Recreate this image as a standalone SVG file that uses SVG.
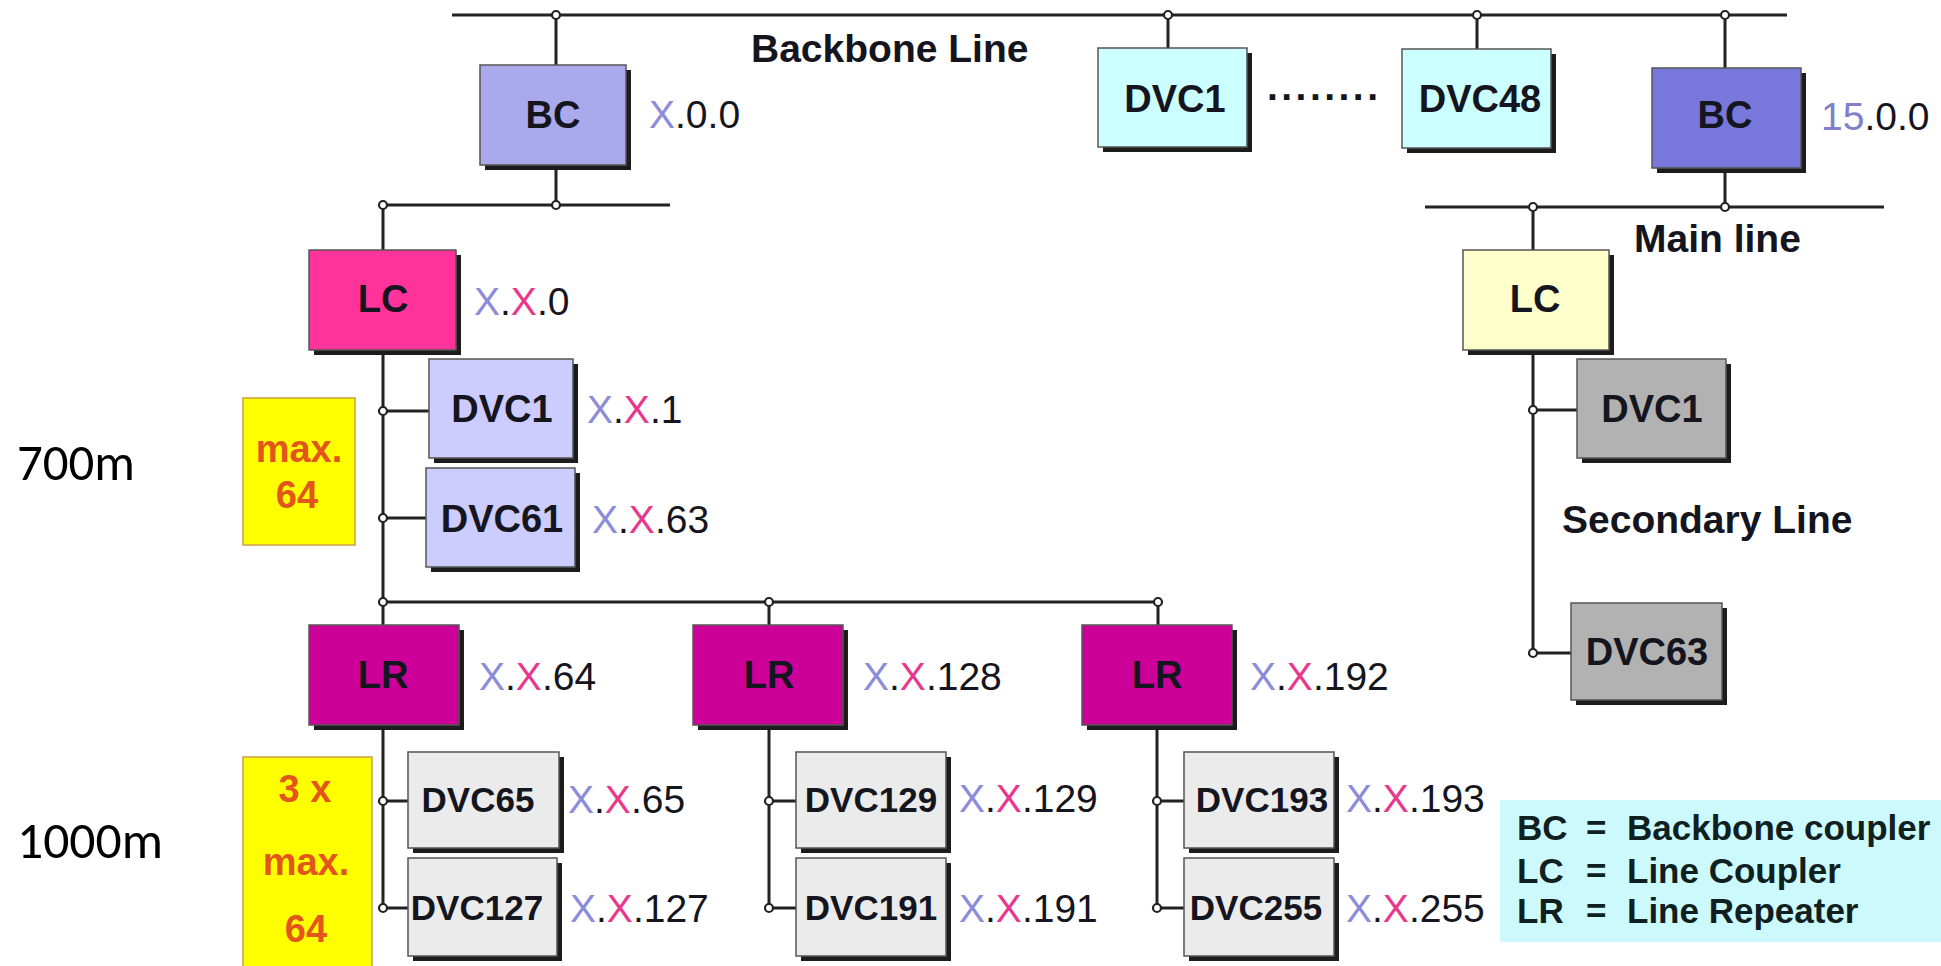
<svg xmlns="http://www.w3.org/2000/svg" width="1941" height="966" viewBox="0 0 1941 966">
<style>
text{font-family:"Liberation Sans",Arial,sans-serif;fill:#151520}
.bl{font-size:38px;font-weight:bold;text-anchor:middle}
.bs{font-size:35px;font-weight:bold;text-anchor:middle}
.ad{font-size:39px}
.ln{font-size:39px;font-weight:bold}
.lg{font-size:35px;font-weight:bold;fill:#102020}
.yl{font-size:38px;font-weight:bold;text-anchor:middle;fill:#E2561B}
.dist{font-family:Carlito,Lato,"Open Sans",sans-serif;font-size:52px;fill:#000}
.x1{fill:#8C8CDA}
.x2{fill:#E8388E}
.sh{fill:#1c1c1c}
.bx{stroke:#555;stroke-width:1.5}
.wire{fill:none;stroke:#222;stroke-width:3}
.dot{fill:#fff;stroke:#222;stroke-width:2.2}
</style>
<rect width="1941" height="966" fill="#fff"/>

<g id="connectors">
<path class="wire" d="M452 15H1787 M556 15V65 M556 165V205 M383 205H670 M383 205V250 M383 350V602 M383 411H429 M383 518H426 M383 602H1158 M383 602V625 M769 602V625 M1158 602V625 M383 725V908 M383 801H408 M383 908H408 M769 725V908 M769 801H796 M769 908H796 M1157 725V908 M1157 801H1184 M1157 908H1184 M1168 15V48 M1477 15V49 M1725 15V68 M1725 168V207 M1425 207H1884 M1533 207V250 M1533 350V653 M1533 410H1577 M1533 653H1571"/>
<g>
<circle class="dot" cx="556" cy="15" r="4"/>
<circle class="dot" cx="1168" cy="15" r="4"/>
<circle class="dot" cx="1477" cy="15" r="4"/>
<circle class="dot" cx="1725" cy="15" r="4"/>
<circle class="dot" cx="556" cy="205" r="4"/>
<circle class="dot" cx="383" cy="205" r="4"/>
<circle class="dot" cx="1533" cy="207" r="4"/>
<circle class="dot" cx="1725" cy="207" r="4"/>
<circle class="dot" cx="383" cy="411" r="4"/>
<circle class="dot" cx="383" cy="518" r="4"/>
<circle class="dot" cx="383" cy="602" r="4"/>
<circle class="dot" cx="769" cy="602" r="4"/>
<circle class="dot" cx="1158" cy="602" r="4"/>
<circle class="dot" cx="383" cy="801" r="4"/>
<circle class="dot" cx="383" cy="908" r="4"/>
<circle class="dot" cx="769" cy="801" r="4"/>
<circle class="dot" cx="769" cy="908" r="4"/>
<circle class="dot" cx="1157" cy="801" r="4"/>
<circle class="dot" cx="1157" cy="908" r="4"/>
<circle class="dot" cx="1533" cy="410" r="4"/>
<circle class="dot" cx="1533" cy="653" r="4"/>
</g>
</g>

<text class="ln" x="751" y="62">Backbone Line</text>
<text class="ln" x="1634" y="252" font-size="38">Main line</text>
<text class="ln" x="1562" y="533">Secondary Line</text>

<g id="bc-left">
<rect class="sh" x="485" y="70" width="146" height="100"/>
<rect class="bx" x="480" y="65" width="146" height="100" fill="#A9A9EC"/>
<text class="bl" x="553" y="128">BC</text>
<text class="ad" x="649" y="128"><tspan class="x1">X</tspan>.0.0</text>
</g>

<g id="dvc1-top">
<rect class="sh" x="1103" y="53" width="149" height="99"/>
<rect class="bx" x="1098" y="48" width="149" height="99" fill="#CCFFFF"/>
<text class="bl" x="1175" y="112">DVC1</text>
</g>
<text x="1267" y="100" font-size="39" font-weight="bold" textLength="111">........</text>
<g id="dvc48-top">
<rect class="sh" x="1407" y="54" width="149" height="99"/>
<rect class="bx" x="1402" y="49" width="149" height="99" fill="#CCFFFF"/>
<text class="bl" x="1480" y="112">DVC48</text>
</g>

<g id="bc-right">
<rect class="sh" x="1657" y="73" width="149" height="100"/>
<rect class="bx" x="1652" y="68" width="149" height="100" fill="#7878DC"/>
<text class="bl" x="1725" y="128">BC</text>
<text class="ad" x="1821" y="130"><tspan class="x1" style="fill:#7F7FCC">15</tspan>.0.0</text>
</g>

<g id="lc-right">
<rect class="sh" x="1468" y="255" width="146" height="100"/>
<rect class="bx" x="1463" y="250" width="146" height="100" fill="#FFFFCC"/>
<text class="bl" x="1535" y="312">LC</text>
</g>
<g id="dvc1-right">
<rect class="sh" x="1582" y="364" width="149" height="99"/>
<rect class="bx" x="1577" y="359" width="149" height="99" fill="#B2B2B2"/>
<text class="bl" x="1652" y="422">DVC1</text>
</g>
<g id="dvc63-right">
<rect class="sh" x="1576" y="608" width="151" height="97"/>
<rect class="bx" x="1571" y="603" width="151" height="97" fill="#B2B2B2"/>
<text class="bl" x="1647" y="665">DVC63</text>
</g>

<g id="lc-left">
<rect class="sh" x="314" y="255" width="147" height="100"/>
<rect class="bx" x="309" y="250" width="147" height="100" fill="#FF3399"/>
<text class="bl" x="383" y="312">LC</text>
<text class="ad" x="474" y="315"><tspan class="x1">X</tspan>.<tspan class="x2">X</tspan>.0</text>
</g>
<g id="dvc1-left">
<rect class="sh" x="434" y="364" width="144" height="99"/>
<rect class="bx" x="429" y="359" width="144" height="99" fill="#CCCCFF"/>
<text class="bl" x="502" y="422">DVC1</text>
<text class="ad" x="587" y="423"><tspan class="x1">X</tspan>.<tspan class="x2">X</tspan>.1</text>
</g>
<g id="dvc61-left">
<rect class="sh" x="431" y="473" width="149" height="99"/>
<rect class="bx" x="426" y="468" width="149" height="99" fill="#CCCCFF"/>
<text class="bl" x="502" y="532">DVC61</text>
<text class="ad" x="592" y="533"><tspan class="x1">X</tspan>.<tspan class="x2">X</tspan>.63</text>
</g>
<g id="max64">
<rect x="243" y="398" width="112" height="147" fill="#FFFF00" stroke="#C8A040" stroke-width="1.5"/>
<text class="yl" x="299" y="462">max.</text>
<text class="yl" x="297" y="508">64</text>
</g>

<g id="lr1">
<rect class="sh" x="314" y="630" width="150" height="100"/>
<rect class="bx" x="309" y="625" width="150" height="100" fill="#CC0099"/>
<text class="bl" x="383" y="688">LR</text>
<text class="ad" x="479" y="690"><tspan class="x1">X</tspan>.<tspan class="x2">X</tspan>.64</text>
</g>
<g id="lr2">
<rect class="sh" x="698" y="630" width="150" height="100"/>
<rect class="bx" x="693" y="625" width="150" height="100" fill="#CC0099"/>
<text class="bl" x="769" y="688">LR</text>
<text class="ad" x="863" y="690"><tspan class="x1">X</tspan>.<tspan class="x2">X</tspan>.128</text>
</g>
<g id="lr3">
<rect class="sh" x="1087" y="630" width="150" height="100"/>
<rect class="bx" x="1082" y="625" width="150" height="100" fill="#CC0099"/>
<text class="bl" x="1157" y="688">LR</text>
<text class="ad" x="1250" y="690"><tspan class="x1">X</tspan>.<tspan class="x2">X</tspan>.192</text>
</g>

<g id="dvc65">
<rect class="sh" x="413" y="757" width="151" height="96"/>
<rect class="bx" x="408" y="752" width="151" height="96" fill="#EBEBEB"/>
<text class="bs" x="478" y="812">DVC65</text>
<text class="ad" x="568" y="813"><tspan class="x1">X</tspan>.<tspan class="x2">X</tspan>.65</text>
</g>
<g id="dvc127">
<rect class="sh" x="413" y="863" width="149" height="98"/>
<rect class="bx" x="408" y="858" width="149" height="98" fill="#EBEBEB"/>
<text class="bs" x="477" y="920">DVC127</text>
<text class="ad" x="570" y="922"><tspan class="x1">X</tspan>.<tspan class="x2">X</tspan>.127</text>
</g>
<g id="dvc129">
<rect class="sh" x="801" y="757" width="150" height="96"/>
<rect class="bx" x="796" y="752" width="150" height="96" fill="#EBEBEB"/>
<text class="bs" x="871" y="812">DVC129</text>
<text class="ad" x="959" y="812"><tspan class="x1">X</tspan>.<tspan class="x2">X</tspan>.129</text>
</g>
<g id="dvc191">
<rect class="sh" x="801" y="863" width="150" height="98"/>
<rect class="bx" x="796" y="858" width="150" height="98" fill="#EBEBEB"/>
<text class="bs" x="871" y="920">DVC191</text>
<text class="ad" x="959" y="922"><tspan class="x1">X</tspan>.<tspan class="x2">X</tspan>.191</text>
</g>
<g id="dvc193">
<rect class="sh" x="1189" y="757" width="150" height="96"/>
<rect class="bx" x="1184" y="752" width="150" height="96" fill="#EBEBEB"/>
<text class="bs" x="1262" y="812">DVC193</text>
<text class="ad" x="1346" y="812"><tspan class="x1">X</tspan>.<tspan class="x2">X</tspan>.193</text>
</g>
<g id="dvc255">
<rect class="sh" x="1189" y="863" width="150" height="98"/>
<rect class="bx" x="1184" y="858" width="150" height="98" fill="#EBEBEB"/>
<text class="bs" x="1256" y="920">DVC255</text>
<text class="ad" x="1346" y="922"><tspan class="x1">X</tspan>.<tspan class="x2">X</tspan>.255</text>
</g>
<g id="max3x64">
<rect x="243" y="757" width="129" height="212" fill="#FFFF00" stroke="#C8A040" stroke-width="1.5"/>
<text class="yl" x="305" y="802">3 x</text>
<text class="yl" x="306" y="875">max.</text>
<text class="yl" x="306" y="942">64</text>
</g>

<g id="legend">
<rect x="1500" y="800" width="445" height="142" fill="#CCFAFC"/>
<text class="lg" x="1517" y="840">BC</text><text class="lg" x="1586" y="840">=</text><text class="lg" x="1627" y="840">Backbone coupler</text>
<text class="lg" x="1517" y="883">LC</text><text class="lg" x="1586" y="883">=</text><text class="lg" x="1627" y="883">Line Coupler</text>
<text class="lg" x="1517" y="923">LR</text><text class="lg" x="1586" y="923">=</text><text class="lg" x="1627" y="923">Line Repeater</text>
</g>

<g id="distances">
<text class="dist" x="17" y="480" textLength="118" lengthAdjust="spacingAndGlyphs">700m</text>
<text class="dist" x="17" y="858" textLength="146" lengthAdjust="spacingAndGlyphs">1000m</text>
</g>
</svg>
